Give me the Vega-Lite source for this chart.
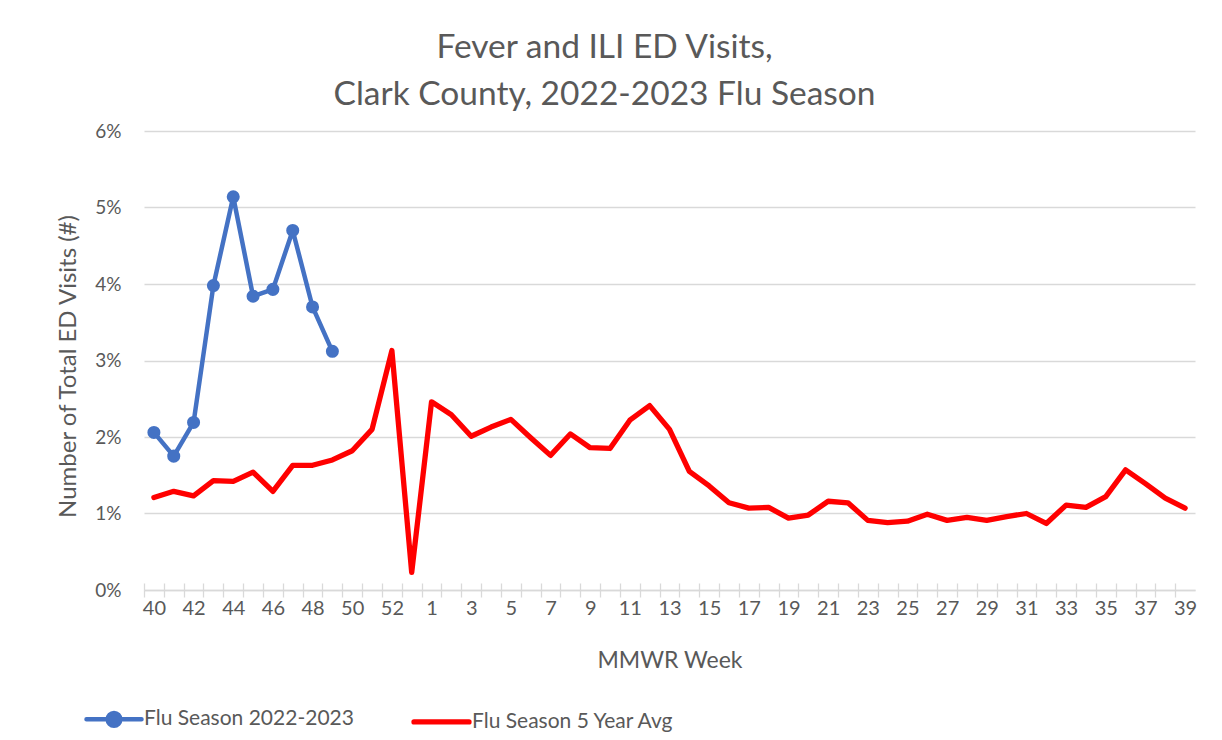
{
  "$schema": "https://vega.github.io/schema/vega-lite/v6.json",
  "width": 1051,
  "height": 459,
  "autosize": {"type": "none"},
  "padding": {"left": 144, "top": 131, "right": 27, "bottom": 150},
  "background": "white",
  "config": {
    "font": "Lato",
    "view": {"stroke": null},
    "axis": {"labelFont": "Lato", "titleFont": "Lato", "labelColor": "#595959", "titleColor": "#595959", "titleFontWeight": "normal"}
  },
  "title": {
    "text": ["Fever and ILI ED Visits,", "Clark County, 2022-2023 Flu Season"],
    "fontSize": 33.5,
    "fontWeight": "normal",
    "color": "#595959",
    "font": "Lato",
    "lineHeight": 47,
    "anchor": "middle",
    "frame": "group",
    "dx": -65,
    "offset": 10
  },
  "data": {
    "values": [
      {"week": "40", "series": "Flu Season 2022-2023", "pct": 0.0206},
      {"week": "41", "series": "Flu Season 2022-2023", "pct": 0.0175},
      {"week": "42", "series": "Flu Season 2022-2023", "pct": 0.0219},
      {"week": "43", "series": "Flu Season 2022-2023", "pct": 0.0398},
      {"week": "44", "series": "Flu Season 2022-2023", "pct": 0.0514},
      {"week": "45", "series": "Flu Season 2022-2023", "pct": 0.0384},
      {"week": "46", "series": "Flu Season 2022-2023", "pct": 0.0393},
      {"week": "47", "series": "Flu Season 2022-2023", "pct": 0.0470},
      {"week": "48", "series": "Flu Season 2022-2023", "pct": 0.0370},
      {"week": "49", "series": "Flu Season 2022-2023", "pct": 0.0312},
      {"week": "40", "series": "Flu Season 5 Year Avg", "pct": 0.0121},
      {"week": "41", "series": "Flu Season 5 Year Avg", "pct": 0.0129},
      {"week": "42", "series": "Flu Season 5 Year Avg", "pct": 0.0123},
      {"week": "43", "series": "Flu Season 5 Year Avg", "pct": 0.0143},
      {"week": "44", "series": "Flu Season 5 Year Avg", "pct": 0.0142},
      {"week": "45", "series": "Flu Season 5 Year Avg", "pct": 0.0154},
      {"week": "46", "series": "Flu Season 5 Year Avg", "pct": 0.0129},
      {"week": "47", "series": "Flu Season 5 Year Avg", "pct": 0.0163},
      {"week": "48", "series": "Flu Season 5 Year Avg", "pct": 0.0163},
      {"week": "49", "series": "Flu Season 5 Year Avg", "pct": 0.0170},
      {"week": "50", "series": "Flu Season 5 Year Avg", "pct": 0.0182},
      {"week": "51", "series": "Flu Season 5 Year Avg", "pct": 0.0210},
      {"week": "52", "series": "Flu Season 5 Year Avg", "pct": 0.0313},
      {"week": "53", "series": "Flu Season 5 Year Avg", "pct": 0.0023},
      {"week": "1", "series": "Flu Season 5 Year Avg", "pct": 0.0246},
      {"week": "2", "series": "Flu Season 5 Year Avg", "pct": 0.0229},
      {"week": "3", "series": "Flu Season 5 Year Avg", "pct": 0.0201},
      {"week": "4", "series": "Flu Season 5 Year Avg", "pct": 0.0213},
      {"week": "5", "series": "Flu Season 5 Year Avg", "pct": 0.0223},
      {"week": "6", "series": "Flu Season 5 Year Avg", "pct": 0.0199},
      {"week": "7", "series": "Flu Season 5 Year Avg", "pct": 0.0176},
      {"week": "8", "series": "Flu Season 5 Year Avg", "pct": 0.0204},
      {"week": "9", "series": "Flu Season 5 Year Avg", "pct": 0.0186},
      {"week": "10", "series": "Flu Season 5 Year Avg", "pct": 0.0185},
      {"week": "11", "series": "Flu Season 5 Year Avg", "pct": 0.0222},
      {"week": "12", "series": "Flu Season 5 Year Avg", "pct": 0.0241},
      {"week": "13", "series": "Flu Season 5 Year Avg", "pct": 0.0210},
      {"week": "14", "series": "Flu Season 5 Year Avg", "pct": 0.0155},
      {"week": "15", "series": "Flu Season 5 Year Avg", "pct": 0.0136},
      {"week": "16", "series": "Flu Season 5 Year Avg", "pct": 0.0114},
      {"week": "17", "series": "Flu Season 5 Year Avg", "pct": 0.0107},
      {"week": "18", "series": "Flu Season 5 Year Avg", "pct": 0.0108},
      {"week": "19", "series": "Flu Season 5 Year Avg", "pct": 0.0094},
      {"week": "20", "series": "Flu Season 5 Year Avg", "pct": 0.0098},
      {"week": "21", "series": "Flu Season 5 Year Avg", "pct": 0.0116},
      {"week": "22", "series": "Flu Season 5 Year Avg", "pct": 0.0114},
      {"week": "23", "series": "Flu Season 5 Year Avg", "pct": 0.0091},
      {"week": "24", "series": "Flu Season 5 Year Avg", "pct": 0.0088},
      {"week": "25", "series": "Flu Season 5 Year Avg", "pct": 0.0090},
      {"week": "26", "series": "Flu Season 5 Year Avg", "pct": 0.0099},
      {"week": "27", "series": "Flu Season 5 Year Avg", "pct": 0.0091},
      {"week": "28", "series": "Flu Season 5 Year Avg", "pct": 0.0095},
      {"week": "29", "series": "Flu Season 5 Year Avg", "pct": 0.0091},
      {"week": "30", "series": "Flu Season 5 Year Avg", "pct": 0.0096},
      {"week": "31", "series": "Flu Season 5 Year Avg", "pct": 0.0100},
      {"week": "32", "series": "Flu Season 5 Year Avg", "pct": 0.0087},
      {"week": "33", "series": "Flu Season 5 Year Avg", "pct": 0.0111},
      {"week": "34", "series": "Flu Season 5 Year Avg", "pct": 0.0108},
      {"week": "35", "series": "Flu Season 5 Year Avg", "pct": 0.0122},
      {"week": "36", "series": "Flu Season 5 Year Avg", "pct": 0.0157},
      {"week": "37", "series": "Flu Season 5 Year Avg", "pct": 0.0139},
      {"week": "38", "series": "Flu Season 5 Year Avg", "pct": 0.0120},
      {"week": "39", "series": "Flu Season 5 Year Avg", "pct": 0.0107}
    ]
  },
  "layer": [
    {
      "mark": {"type": "line", "strokeJoin": "round", "strokeCap": "round"},
      "encoding": {
        "x": {
          "field": "week",
          "type": "ordinal",
          "scale": {"type": "point", "padding": 0.5, "domain": ["40","41","42","43","44","45","46","47","48","49","50","51","52","53","1","2","3","4","5","6","7","8","9","10","11","12","13","14","15","16","17","18","19","20","21","22","23","24","25","26","27","28","29","30","31","32","33","34","35","36","37","38","39"]},
          "axis": {
            "orient": "bottom",
            "title": "MMWR Week",
            "titleFontSize": 23,
            "titleY": 70,
            "titleBaseline": "middle",
            "labelFontSize": 20,
            "labelAngle": 0,
            "labelOverlap": false,
            "labelPadding": 1,
            "labelExpr": "(toNumber(datum.value) >= 40 ? toNumber(datum.value) % 2 == 0 : toNumber(datum.value) % 2 == 1) ? datum.label : ''",
            "tickOffset": -9.915,
            "labelOffset": 9.915,
            "tickSize": 7,
            "tickColor": "#d9d9d9",
            "tickWidth": 1.3,
            "domainColor": "#d9d9d9",
            "domainWidth": 1.5,
            "grid": false
          }
        },
        "y": {
          "field": "pct",
          "type": "quantitative",
          "scale": {"domain": [0, 0.06], "nice": false},
          "axis": {
            "title": "Number of Total ED Visits (#)",
            "titleFontSize": 24,
            "titleX": -76,
            "titleY": 235,
            "titleBaseline": "middle",
            "values": [0, 0.01, 0.02, 0.03, 0.04, 0.05, 0.06],
            "format": ".0%",
            "labelFontSize": 19,
            "labelPadding": 23,
            "ticks": false,
            "domain": false,
            "grid": true,
            "gridColor": "#d9d9d9",
            "gridWidth": 1.3
          }
        },
        "color": {
          "field": "series",
          "type": "nominal",
          "scale": {"domain": ["Flu Season 2022-2023", "Flu Season 5 Year Avg"], "range": ["#4472C4", "#FF0000"]},
          "legend": {
            "orient": "none",
            "legendX": -60,
            "legendY": 558,
            "direction": "horizontal",
            "title": null,
            "padding": 0,
            "labelFont": "Lato",
            "labelFontSize": 21,
            "labelColor": "#595959",
            "labelOffset": 0,
            "labelLimit": 0,
            "columnPadding": 49,
            "symbolSize": 3025,
            "symbolStrokeWidth": 5,
            "encode": {
              "symbols": {
                "update": {
                  "shape": {"signal": "datum.value === 'Flu Season 2022-2023' ? 'M-1,0L1,0M-0.23,0A0.23,0.23,0,1,0,0.23,0A0.23,0.23,0,1,0,-0.23,0' : 'M-1,0L1,0'"},
                  "fill": {"signal": "datum.value === 'Flu Season 2022-2023' ? '#4472C4' : 'transparent'"},
                  "stroke": {"signal": "datum.value === 'Flu Season 2022-2023' ? '#4472C4' : '#FF0000'"},
                  "strokeWidth": {"value": 5},
                  "strokeCap": {"value": "round"},
                  "opacity": {"value": 1}
                }
              }
            }
          }
        },
        "strokeWidth": {
          "field": "series",
          "type": "nominal",
          "scale": {"domain": ["Flu Season 2022-2023", "Flu Season 5 Year Avg"], "range": [4.5, 5.3]},
          "legend": null
        }
      }
    },
    {
      "transform": [{"filter": "datum.series === 'Flu Season 2022-2023'"}],
      "mark": {"type": "point", "filled": true, "size": 170, "opacity": 1, "color": "#4472C4"},
      "encoding": {
        "x": {
          "field": "week",
          "type": "ordinal",
          "axis": {
            "orient": "bottom",
            "title": null,
            "labels": false,
            "domain": false,
            "grid": false,
            "tickOffset": -9.915,
            "tickSize": -7,
            "tickColor": "#d9d9d9",
            "tickWidth": 1.3
          }
        },
        "y": {"field": "pct", "type": "quantitative"}
      }
    }
  ],
  "resolve": {"axis": {"x": "independent"}}
}
